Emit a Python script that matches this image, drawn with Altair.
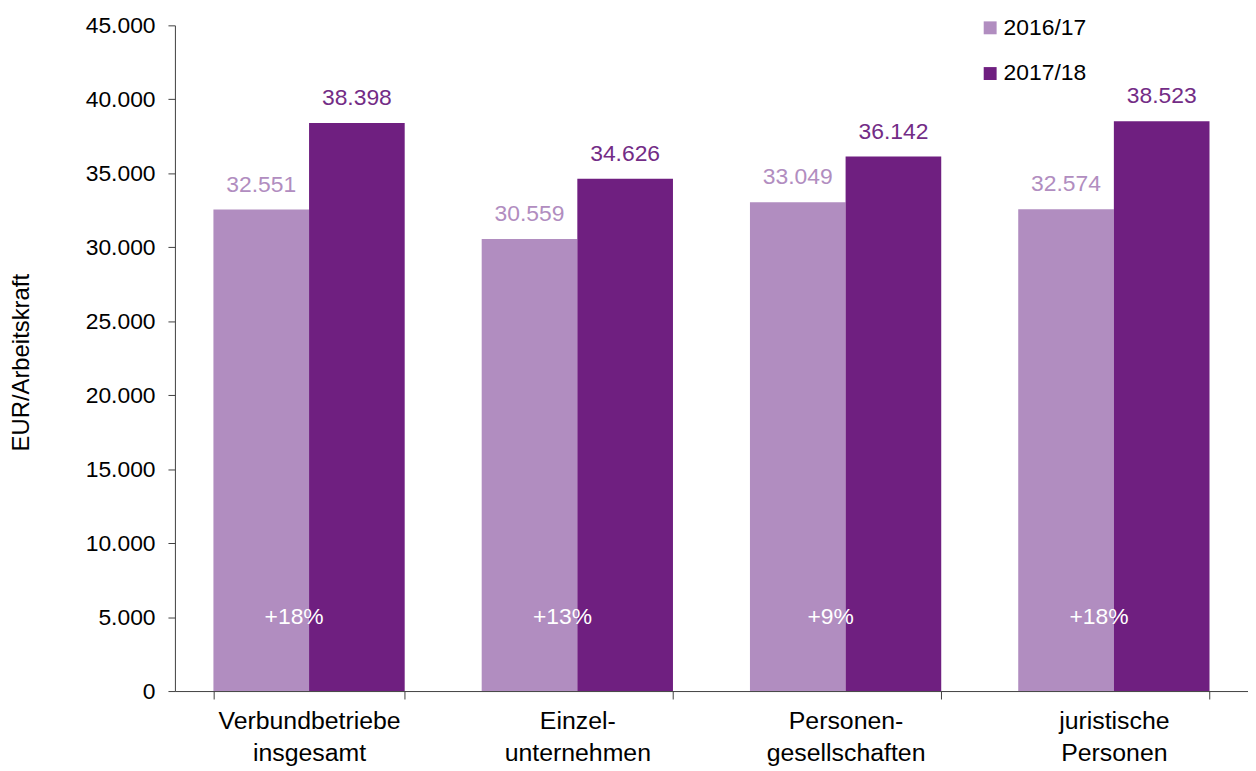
import altair as alt
import pandas as pd

categories = ["Verbundbetriebe\ninsgesamt", "Einzel-\nunternehmen", "Personen-\ngesellschaften", "juristische\nPersonen"]
series = ["2016/17", "2017/18"]
values_1617 = [32551, 30559, 33049, 32574]
values_1718 = [38398, 34626, 36142, 38523]
changes = ["+18%", "+13%", "+9%", "+18%"]
y_ticks = [0, 5000, 10000, 15000, 20000, 25000, 30000, 35000, 40000, 45000]
colors = ["#B18DC0", "#6F1F80"]
label_colors = ["#B18DC0", "#732C86"]

rows = []
for c, a, b in zip(categories, values_1617, values_1718):
    rows.append({"category": c, "series": series[0], "value": a})
    rows.append({"category": c, "series": series[1], "value": b})
df = pd.DataFrame(rows)
df["label"] = df["value"].map(lambda v: f"{v:,}".replace(",", "."))
df_pct = pd.DataFrame({"category": categories, "change": changes})

FONT = "Liberation Sans"

x_enc = alt.X(
    "category:N",
    sort=categories,
    scale=alt.Scale(paddingInner=0.287, paddingOuter=0.1435),
    axis=alt.Axis(
        title=None,
        labelAngle=0,
        tickBand="extent",
        tickSize=8,
        tickColor="#404040",
        domainColor="#404040",
        labelFontSize=25,
        labelColor="#000000",
        labelLineHeight=32,
        labelPadding=10,
        labelLimit=400,
        labelExpr="split(datum.label, '\\n')",
    ),
)
xo = alt.XOffset("series:N", sort=series, scale=alt.Scale(paddingInner=0, paddingOuter=0))
y_enc = alt.Y(
    "value:Q",
    scale=alt.Scale(domain=[0, 45000], nice=False),
    axis=alt.Axis(
        title="EUR/Arbeitskraft",
        titleFontSize=24,
        titleFontWeight="normal",
        titleColor="#000000",
        titleX=-154,
        titleY=339,
        titleBaseline="middle",
        titleAngle=-90,
        values=y_ticks,
        grid=False,
        tickSize=7,
        tickColor="#404040",
        domainColor="#404040",
        labelFontSize=23,
        labelColor="#000000",
        labelPadding=13,
        labelExpr="replace(format(datum.value, ','), ',', '.')",
    ),
)

bars = alt.Chart(df).mark_bar(strokeWidth=0).encode(
    x=x_enc,
    xOffset=xo,
    y=y_enc,
    color=alt.Color(
        "series:N",
        scale=alt.Scale(domain=series, range=colors),
        legend=alt.Legend(
            title=None,
            orient="none",
            legendX=809,
            legendY=-9,
            padding=0,
            symbolType="square",
            symbolSize=169,
            symbolStrokeWidth=0,
            labelFontSize=23,
            labelColor="#000000",
            labelOffset=2,
            rowPadding=22,
        ),
    ),
)

value_text = alt.Chart(df).mark_text(fontSize=23, baseline="middle", dy=-25).encode(
    x=alt.X("category:N", sort=categories),
    xOffset=xo,
    y=alt.Y("value:Q"),
    text="label:N",
    color=alt.condition(alt.datum.series == series[0], alt.value(label_colors[0]), alt.value(label_colors[1])),
)

pct_text = alt.Chart(df_pct).mark_text(fontSize=23, baseline="middle", color="#FFFFFF", dx=-15).encode(
    x=alt.X("category:N", sort=categories),
    y=alt.datum(5000),
    text="change:N",
)

chart = alt.layer(bars, value_text, pct_text).properties(
    width=1080,
    height=670,
    autosize=alt.AutoSizeParams(type="none"),
    padding={"left": 168, "top": 15, "right": 0, "bottom": 78},
).configure(font=FONT).configure_view(stroke=None)

chart.save("out.html", embed_options={"renderer": "svg", "actions": False})
